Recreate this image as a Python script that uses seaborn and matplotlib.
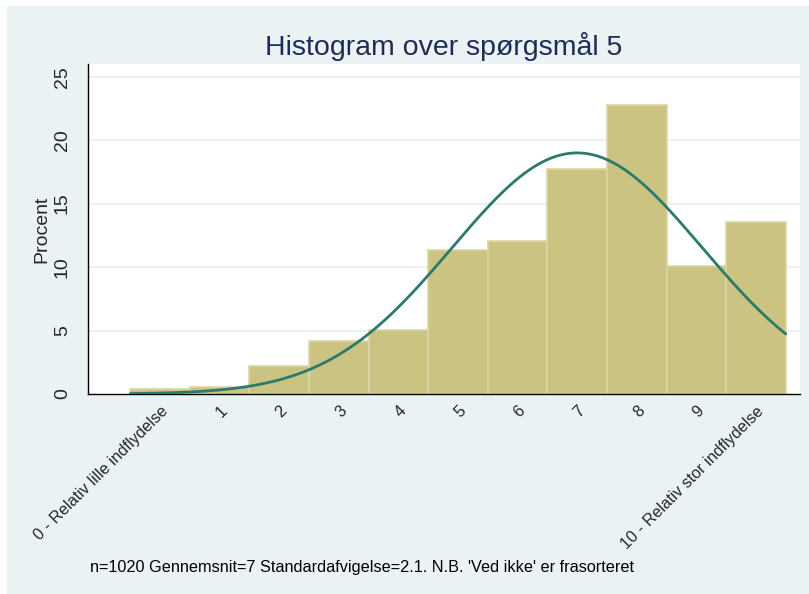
import numpy as np
import pandas as pd
import matplotlib
matplotlib.use("Agg")
import matplotlib.pyplot as plt
from matplotlib.patches import Rectangle
import seaborn as sns

# ==============================
# DATA
# ==============================

scores = [0, 1, 2, 3, 4, 5, 6, 7, 8, 9, 10]
percent = [0.39, 0.52, 2.18, 4.2, 5.02, 11.37, 12.02, 17.7, 22.8, 10.07, 13.58]
tick_labels = ["0 - Relativ lille indflydelse", "1", "2", "3", "4", "5",
               "6", "7", "8", "9", "10 - Relativ stor indflydelse"]
y_ticks = [0, 5, 10, 15, 20, 25]

N = 1020
MEAN = 7.0
SD = 2.1

title = "Histogram over spørgsmål 5"
note = "n=1020 Gennemsnit=7 Standardafvigelse=2.1. N.B. 'Ved ikke' er frasorteret"

# ==============================
# STYLE
# ==============================

BG = "#EAF2F3"
BAR = "#CBC382"
BAR_EDGE = "#DCD6A6"
LINE = "#2B7A6C"
TITLE_COL = "#1E2D58"

sns.set_style("white")
plt.rcParams["font.family"] = ["Liberation Sans", "DejaVu Sans"]

fig = plt.figure(figsize=(8.09, 5.94), dpi=100)
fig.patch.set_facecolor("white")
bg_rect = Rectangle((7 / 809, 0), 1, 588 / 594, transform=fig.transFigure,
                    facecolor=BG, edgecolor="none", zorder=-10)
fig.add_artist(bg_rect)

ax = fig.add_axes([88 / 809, 200 / 594, 712 / 809, 330 / 594])
ax.set_facecolor("white")

df = pd.DataFrame({"score": scores, "pct": percent})

# histogram bars (already in percent)
sns.histplot(data=df, x="score", weights="pct", discrete=True, shrink=1.0,
             color=BAR, edgecolor=BAR_EDGE, linewidth=1.2, alpha=1, ax=ax, zorder=2)

# normal density, scaled to percent
xs = np.linspace(-0.5, 10.5, 300)
ys = 100 * np.exp(-0.5 * ((xs - MEAN) / SD) ** 2) / (SD * np.sqrt(2 * np.pi))
sns.lineplot(x=xs, y=ys, color=LINE, linewidth=2, ax=ax, zorder=3)

ax.set_xlim(-1.21, 10.74)
ax.set_ylim(0, 26)

for yv in y_ticks[1:]:
    ax.axhline(yv, color=BG, linewidth=1.5, zorder=1)

ax.set_yticks(y_ticks)
ax.set_yticklabels([str(v) for v in y_ticks], rotation=90, va="center", fontsize=14)
ax.set_xticks(scores)
ax.set_xticklabels(tick_labels, rotation=45, ha="right", va="top",
                   rotation_mode="anchor", fontsize=11.6)
ax.tick_params(axis="both", direction="out", length=5.8, width=1, color="black")
ax.tick_params(axis="y", pad=6.5)
ax.tick_params(axis="x", pad=1)

ax.set_xlabel("")
ax.set_ylabel("Procent", fontsize=14, labelpad=2.5)

for side in ["top", "right"]:
    ax.spines[side].set_visible(False)
for side in ["left", "bottom"]:
    ax.spines[side].set_color("black")
    ax.spines[side].set_linewidth(1)

fig.text(444 / 809, (594 - 55) / 594, title, ha="center", va="baseline",
         fontsize=20.5, color=TITLE_COL)
fig.text(90 / 809, (594 - 572) / 594, note, ha="left", va="baseline",
         fontsize=11.7, color="black")

fig.savefig("out.png", dpi=100, facecolor=fig.get_facecolor())
